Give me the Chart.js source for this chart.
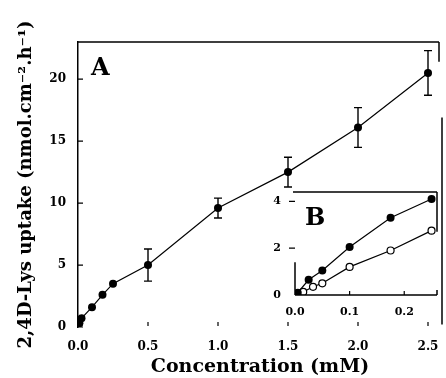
<!DOCTYPE html>
<html>
<head>
<meta charset="utf-8">
<script src="https://cdn.jsdelivr.net/npm/chart.js@4"></script>
<style>
  body { margin: 0; background: #fff; }
  #wrap { position: relative; width: 446px; height: 378px; }
  #main { position: absolute; left: 0; top: 0; }
  #inset { position: absolute; left: 255px; top: 180px; }
</style>
</head>
<body>
<div id="wrap">
  <canvas id="main" width="446" height="378"></canvas>
  <canvas id="inset" width="191" height="145"></canvas>
</div>
<script>
// panel A - uptake vs concentration
const mainX = [0.01, 0.025, 0.1, 0.175, 0.25, 0.5, 1.0, 1.5, 2.0, 2.5];
const mainY = [0.3, 0.7, 1.6, 2.6, 3.5, 5.0, 9.6, 12.5, 16.1, 20.5];
const mainErr = [0, 0, 0, 0, 0, 1.3, 0.8, 1.2, 1.6, 1.8];
const mainXTicks = [0.0, 0.5, 1.0, 1.5, 2.0, 2.5];
const mainYTicks = [0, 5, 10, 15, 20];

// panel B - inset, low concentrations
const insetFilledX = [0.005, 0.025, 0.05, 0.1, 0.175, 0.25];
const insetFilledY = [0.1, 0.65, 1.05, 2.05, 3.3, 4.1];
const insetOpenX = [0.015, 0.033, 0.05, 0.1, 0.175, 0.25];
const insetOpenY = [0.13, 0.35, 0.5, 1.2, 1.9, 2.75];
const insetXTicks = [0.0, 0.1, 0.2];
const insetYTicks = [0, 2, 4];

const SERIF = "'DejaVu Serif', 'Liberation Serif', serif";

function pts(xs, ys) {
    return xs.map((x, i) => ({ x: x, y: ys[i] }));
}

function fixTicks(list) {
    return scale => { scale.ticks = list.map(v => ({ value: v })); };
}

// tamaño fijo del eje y sin el relleno extra que pide Chart.js para las etiquetas
function fixSize(dim, px) {
    return s => {
        s[dim] = px;
        s.paddingLeft = 0; s.paddingRight = 0;
        s.paddingTop = 0; s.paddingBottom = 0;
    };
}

// marcos, ticks hacia dentro, barras de error y letra del panel
const frameA = {
    id: 'frameA',
    afterDatasetsDraw(chart) {
        const ctx = chart.ctx;
        const a = chart.chartArea;
        const xs = chart.scales.x, ys = chart.scales.y;
        ctx.save();
        ctx.strokeStyle = '#000';
        ctx.lineWidth = 1.5;
        ctx.beginPath();
        // top
        ctx.moveTo(a.left, a.top); ctx.lineTo(a.right - 3, a.top);
        ctx.moveTo(a.right - 3, a.top); ctx.lineTo(a.right - 3, ys.getPixelForValue(21.4));
        // right (partial)
        ctx.moveTo(a.right, ys.getPixelForValue(16.9)); ctx.lineTo(a.right, ys.getPixelForValue(0.2));
        ctx.stroke();

        ctx.lineWidth = 1.2;
        ctx.beginPath();
        mainYTicks.forEach(v => {
            const y = ys.getPixelForValue(v);
            ctx.moveTo(a.left, y); ctx.lineTo(a.left + 5, y);
        });
        mainXTicks.forEach(v => {
            if (v === 0) return;
            const x = xs.getPixelForValue(v);
            ctx.moveTo(x, a.bottom - 1); ctx.lineTo(x, a.bottom - 5);
        });
        ctx.stroke();

        // error bars
        ctx.lineWidth = 1.4;
        ctx.beginPath();
        mainX.forEach((x, i) => {
            if (!mainErr[i]) return;
            const px = xs.getPixelForValue(x);
            const y1 = ys.getPixelForValue(mainY[i] + mainErr[i]);
            const y2 = ys.getPixelForValue(mainY[i] - mainErr[i]);
            ctx.moveTo(px, y1); ctx.lineTo(px, y2);
            ctx.moveTo(px - 4, y1); ctx.lineTo(px + 4, y1);
            ctx.moveTo(px - 4, y2); ctx.lineTo(px + 4, y2);
        });
        ctx.stroke();

        ctx.fillStyle = '#000';
        ctx.font = 'bold 24px ' + SERIF;
        ctx.textBaseline = 'middle';
        ctx.fillText('A', a.left + 13, a.top + 27);
        ctx.restore();
    }
};

const frameB = {
    id: 'frameB',
    afterDatasetsDraw(chart) {
        const ctx = chart.ctx;
        const a = chart.chartArea;
        const xs = chart.scales.x, ys = chart.scales.y;
        ctx.save();
        ctx.strokeStyle = '#000';
        ctx.lineWidth = 1.5;
        ctx.beginPath();
        ctx.moveTo(a.left - 2, a.top); ctx.lineTo(a.right, a.top);
        ctx.moveTo(a.right, a.top); ctx.lineTo(a.right, ys.getPixelForValue(2.7));
        ctx.moveTo(a.left, a.bottom); ctx.lineTo(a.right, a.bottom);
        ctx.moveTo(a.left, a.bottom); ctx.lineTo(a.left, ys.getPixelForValue(1.4));
        ctx.moveTo(a.right, a.bottom); ctx.lineTo(a.right, a.bottom - 5);
        ctx.stroke();

        ctx.lineWidth = 1.2;
        ctx.beginPath();
        insetYTicks.forEach(v => {
            if (v === 0) return;
            const y = ys.getPixelForValue(v);
            ctx.moveTo(a.left - 6, y); ctx.lineTo(a.left, y);
        });
        insetXTicks.forEach(v => {
            if (v === 0) return;
            const x = xs.getPixelForValue(v);
            ctx.moveTo(x, a.bottom); ctx.lineTo(x, a.bottom - 4);
        });
        ctx.stroke();

        ctx.fillStyle = '#000';
        ctx.font = 'bold 24px ' + SERIF;
        ctx.textBaseline = 'middle';
        ctx.fillText('B', a.left + 10, a.top + 27);
        ctx.restore();
    }
};

const tickFont = { family: SERIF, size: 12, weight: 'bold' };

new Chart(document.getElementById('main'), {
    type: 'scatter',
    data: {
        datasets: [{
            data: pts(mainX, mainY),
            showLine: true,
            borderColor: '#000',
            borderWidth: 1.2,
            backgroundColor: '#000',
            pointRadius: 4,
            pointBorderWidth: 0
        }]
    },
    options: {
        responsive: false,
        animation: false,
        layout: { padding: { top: 42, right: 3, left: 0, bottom: 0 } },
        plugins: { legend: { display: false }, tooltip: { enabled: false } },
        scales: {
            x: {
                type: 'linear', min: 0, max: 2.6,
                afterBuildTicks: fixTicks(mainXTicks),
                afterFit: fixSize('height', 51),
                grid: { display: false, drawTicks: false },
                border: { display: false },
                ticks: { color: '#000', font: tickFont, padding: 13, maxRotation: 0,
                         callback: v => v.toFixed(1) },
                title: { display: true, text: 'Concentration (mM)', color: '#000',
                         font: { family: SERIF, size: 19, weight: 'bold' }, padding: { top: 0, bottom: 0 } }
            },
            y: {
                min: 0, max: 23,
                afterBuildTicks: fixTicks(mainYTicks),
                afterFit: fixSize('width', 78),
                grid: { display: false, drawTicks: false },
                border: { display: true, color: '#000', width: 1.5 },
                ticks: { color: '#000', font: tickFont, padding: 12 },
                title: { display: true, text: '2,4D-Lys uptake (nmol.cm\u207B\u00B2.h\u207B\u00B9)', color: '#000',
                         font: { family: SERIF, size: 18, weight: 'bold' }, padding: { top: 16, bottom: 0 } }
            }
        }
    },
    plugins: [frameA]
});

new Chart(document.getElementById('inset'), {
    type: 'scatter',
    data: {
        datasets: [{
            data: pts(insetFilledX, insetFilledY),
            showLine: true,
            borderColor: '#000',
            borderWidth: 1.2,
            backgroundColor: '#000',
            pointRadius: 4,
            pointBorderWidth: 0
        }, {
            data: pts(insetOpenX, insetOpenY),
            showLine: true,
            borderColor: '#000',
            borderWidth: 1.2,
            backgroundColor: '#fff',
            pointRadius: 3.5,
            pointBorderWidth: 1.2
        }]
    },
    options: {
        responsive: false,
        animation: false,
        layout: { padding: { top: 12, right: 9, left: 0, bottom: 0 } },
        plugins: { legend: { display: false }, tooltip: { enabled: false } },
        scales: {
            x: {
                type: 'linear', min: 0, max: 0.26,
                afterBuildTicks: fixTicks(insetXTicks),
                afterFit: fixSize('height', 30),
                grid: { display: false, drawTicks: false },
                border: { display: false },
                ticks: { color: '#000', font: { family: SERIF, size: 11, weight: 'bold' }, padding: 11,
                         maxRotation: 0, callback: v => v.toFixed(1) }
            },
            y: {
                min: 0, max: 4.4,
                afterBuildTicks: fixTicks(insetYTicks),
                afterFit: fixSize('width', 40),
                grid: { display: false, drawTicks: false },
                border: { display: false },
                ticks: { color: '#000', font: { family: SERIF, size: 11, weight: 'bold' }, padding: 14 }
            }
        }
    },
    plugins: [frameB]
});
</script>
</body>
</html>
